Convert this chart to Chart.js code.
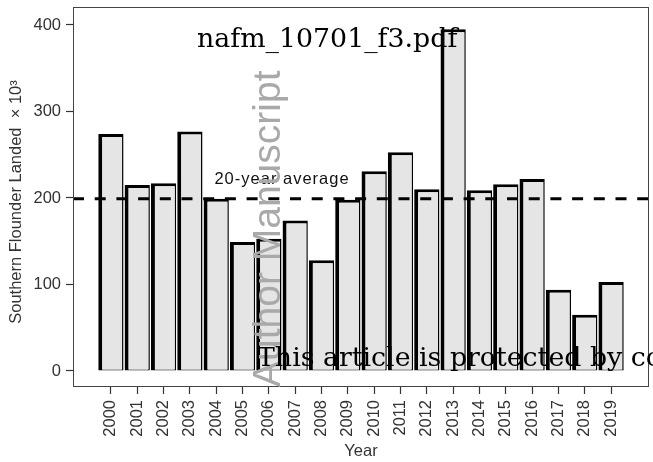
<!DOCTYPE html>
<html>
<head>
<meta charset="utf-8">
<script src="https://cdn.jsdelivr.net/npm/chart.js@4.4.1/dist/chart.umd.min.js"></script>
<style>
  html, body { margin: 0; padding: 0; background: #fff; }
  #wrap { width: 653px; height: 462px; }
</style>
</head>
<body>
<div id="wrap"><canvas id="landings" width="653" height="462"></canvas></div>
<script>
// Southern flounder landings by year (thousands)
const years = ['2000', '2001', '2002', '2003', '2004', '2005', '2006', '2007', '2008', '2009',
               '2010', '2011', '2012', '2013', '2014', '2015', '2016', '2017', '2018', '2019'];
const landed = [274, 215, 217, 277, 199, 149, 153, 174, 128, 198,
                231, 253, 210, 395, 209, 216, 222, 94, 65, 103];
const yTicks = [0, 100, 200, 300, 400];

const yTitle = 'Southern Flounder Landed  \u00d7 10\u00b3';
const averageLabel = '20-year average';
const averageLabelAt = { x: 6.5, y: 222 };
const fileLabel = 'nafm_10701_f3.pdf';
const stampVertical = 'Author Manuscript';
const stampFooter = 'This article is protected by copyright. All rights reserved';

const average = landed.reduce((a, b) => a + b, 0) / landed.length;

const tickFont = { family: 'Liberation Sans', size: 16.5 };
const inkGrey = '#333';

const overlays = {
  id: 'overlays',
  afterDatasetsDraw(chart) {
    const { ctx, chartArea: a, scales: { x, y } } = chart;
    const yAvg = y.getPixelForValue(average);
    ctx.save();
    // dashed mean line across the whole panel
    ctx.strokeStyle = '#000';
    ctx.lineWidth = 3;
    ctx.setLineDash([11, 10.7]);
    ctx.beginPath();
    ctx.moveTo(a.left, yAvg);
    ctx.lineTo(a.right, yAvg);
    ctx.stroke();
    ctx.setLineDash([]);

    ctx.font = '16.5px "Liberation Sans"';
    ctx.letterSpacing = '1px';
    ctx.fillStyle = '#111';
    ctx.textAlign = 'center';
    ctx.textBaseline = 'middle';
    ctx.fillText(averageLabel, x.getPixelForValue(averageLabelAt.x), y.getPixelForValue(averageLabelAt.y));
    ctx.restore();
  },
  afterDraw(chart) {
    const { ctx, chartArea: a } = chart;
    ctx.save();
    // panel frame
    ctx.strokeStyle = '#444';
    ctx.lineWidth = 1;
    ctx.strokeRect(a.left + 0.5, a.top + 0.5, a.right - a.left - 1, a.bottom - a.top - 1);

    // y axis title, rotated
    ctx.save();
    ctx.fillStyle = inkGrey;
    ctx.font = '16.5px "Liberation Sans"';
    ctx.translate(16, (a.top + a.bottom) / 2 + 5);
    ctx.rotate(-Math.PI / 2);
    ctx.textAlign = 'center';
    ctx.textBaseline = 'middle';
    ctx.fillText(yTitle, 0, 0);
    ctx.restore();

    // manuscript stamps
    ctx.save();
    ctx.fillStyle = '#a9a9a9';
    ctx.font = '39px "Liberation Sans"';
    ctx.translate(280, 387);
    ctx.rotate(-Math.PI / 2);
    ctx.textAlign = 'left';
    ctx.textBaseline = 'alphabetic';
    ctx.fillText(stampVertical, 0, 0);
    ctx.restore();

    ctx.fillStyle = '#000';
    ctx.font = '26.8px "DejaVu Serif"';
    ctx.textAlign = 'left';
    ctx.textBaseline = 'alphabetic';
    ctx.fillText(fileLabel, 197, 47);
    ctx.fillText(stampFooter, 257, 366);
    ctx.restore();
  }
};

// no label overflow padding: the panel edges are fixed by afterFit sizes
const noPadding = (scale) => {
  scale.paddingTop = 0;
  scale.paddingBottom = 0;
  scale.paddingLeft = 0;
  scale.paddingRight = 0;
};

new Chart(document.getElementById('landings'), {
  type: 'bar',
  data: {
    datasets: [{
      data: landed.map((v, i) => ({ x: i, y: v })),
      backgroundColor: '#e5e5e5',
      borderColor: '#000',
      borderWidth: { left: 4, top: 3, right: 1.5, bottom: 1 },
      borderSkipped: false,
      barPercentage: 0.96,
      categoryPercentage: 1
    }]
  },
  options: {
    responsive: false,
    animation: false,
    layout: { autoPadding: false, padding: { top: 7, right: 4, left: 0, bottom: 0 } },
    plugins: {
      legend: { display: false },
      tooltip: { enabled: false }
    },
    scales: {
      x: {
        type: 'linear',
        min: -1.44,
        max: 20.44,
        offset: false,
        afterBuildTicks: (scale) => { scale.ticks = years.map((_, i) => ({ value: i })); },
        afterFit: (scale) => { scale.height = 75; noPadding(scale); },
        grid: { drawOnChartArea: false, offset: false, tickLength: 7, tickColor: inkGrey, tickWidth: 1.2 },
        border: { display: false },
        ticks: {
          autoSkip: false,
          minRotation: 90,
          maxRotation: 90,
          padding: 6,
          color: inkGrey,
          font: tickFont,
          callback: (value) => years[value]
        },
        title: {
          display: true,
          text: 'Year',
          color: inkGrey,
          font: { family: 'Liberation Sans', size: 16.5 },
          padding: { top: 0, bottom: 1 }
        }
      },
      y: {
        min: -18.5,
        max: 420.8,
        afterBuildTicks: (scale) => { scale.ticks = yTicks.map((v) => ({ value: v })); },
        afterFit: (scale) => { scale.width = 73; noPadding(scale); },
        grid: { drawOnChartArea: false, tickLength: 7, tickColor: inkGrey, tickWidth: 1.2 },
        border: { display: false },
        ticks: { padding: 5, color: inkGrey, font: tickFont }
      }
    }
  },
  plugins: [overlays]
});
</script>
</body>
</html>
